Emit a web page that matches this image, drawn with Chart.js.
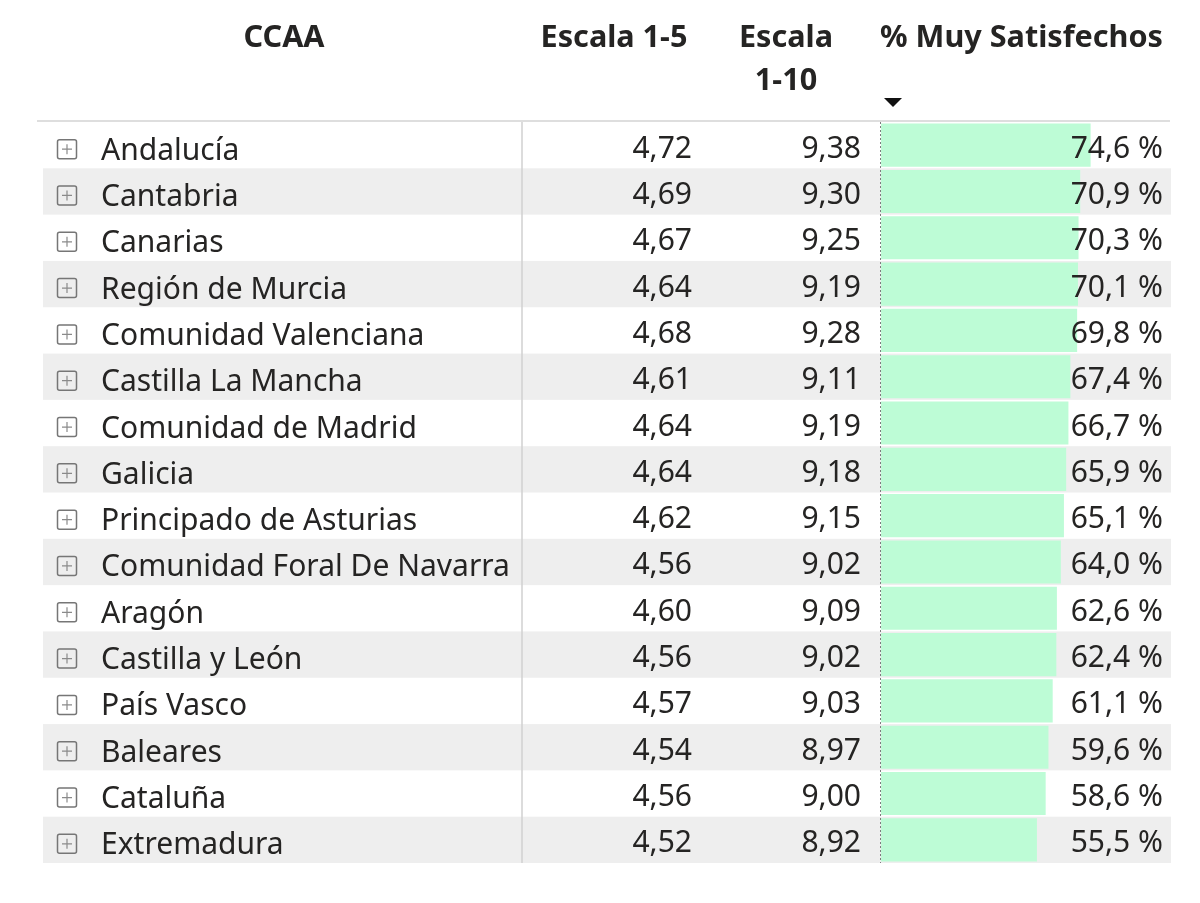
<!DOCTYPE html>
<html>
<head>
<meta charset="utf-8">
<script src="https://cdn.jsdelivr.net/npm/chart.js@4.4.0/dist/chart.umd.min.js"></script>
<style>
  html, body { margin: 0; padding: 0; background: #fff; }
  canvas { display: block; }
</style>
</head>
<body>
<canvas id="tabla" width="1200" height="903"></canvas>
<script>
// datos de la tabla
const ccaa = [
    'Andalucía',
    'Cantabria',
    'Canarias',
    'Región de Murcia',
    'Comunidad Valenciana',
    'Castilla La Mancha',
    'Comunidad de Madrid',
    'Galicia',
    'Principado de Asturias',
    'Comunidad Foral De Navarra',
    'Aragón',
    'Castilla y León',
    'País Vasco',
    'Baleares',
    'Cataluña',
    'Extremadura',
];
const escala5  = [4.72, 4.69, 4.67, 4.64, 4.68, 4.61, 4.64, 4.64, 4.62, 4.56, 4.60, 4.56, 4.57, 4.54, 4.56, 4.52];
const escala10 = [9.38, 9.30, 9.25, 9.19, 9.28, 9.11, 9.19, 9.18, 9.15, 9.02, 9.09, 9.02, 9.03, 8.97, 9.00, 8.92];
const muySatisfechos = [74.6, 70.9, 70.3, 70.1, 69.8, 67.4, 66.7, 65.9, 65.1, 64.0, 62.6, 62.4, 61.1, 59.6, 58.6, 55.5];
const cabeceras = ['CCAA', 'Escala 1-5', ['Escala', '1-10'], '% Muy Satisfechos'];

const FONT = '"Segoe UI", "Noto Sans", sans-serif';
const TEXT_COLOR = '#252423';

const fmt = (v, d) => v.toFixed(d).replace('.', ',');

// ajusta el tamaño de letra a un ancho medido
function fitSize(ctx, text, weight, target) {
    ctx.font = `${weight} 30px ${FONT}`;
    return 30 * target / ctx.measureText(text).width;
}

const tablaPlugin = {
    id: 'tabla',
    beforeDatasetsDraw(chart) {
        const {ctx, scales: {y}} = chart;
        const rowH = Math.abs(y.getPixelForValue(1) - y.getPixelForValue(0));
        const top = y.getPixelForValue(0) - rowH / 2;
        const bottom = y.getPixelForValue(ccaa.length - 1) + rowH / 2;
        ctx.save();
        //filas alternas
        ccaa.forEach((_, i) => {
            if (i % 2 === 1) {
                const cy = y.getPixelForValue(i);
                ctx.fillStyle = '#eeeeee';
                ctx.fillRect(43, cy - rowH / 2, 1128, rowH);
            }
        });
        //linea cabecera
        ctx.strokeStyle = '#dedede';
        ctx.lineWidth = 2;
        ctx.beginPath();
        ctx.moveTo(37, top - 1);
        ctx.lineTo(1170, top - 1);
        ctx.stroke();
        //separador columna
        ctx.strokeStyle = '#d0d0d0';
        ctx.lineWidth = 1.5;
        ctx.beginPath();
        ctx.moveTo(522, top);
        ctx.lineTo(522, bottom);
        ctx.stroke();
        ctx.restore();
    },
    afterDatasetsDraw(chart) {
        const {ctx, scales: {x, y}} = chart;
        const rowH = Math.abs(y.getPixelForValue(1) - y.getPixelForValue(0));
        const top = y.getPixelForValue(0) - rowH / 2;
        const bottom = y.getPixelForValue(ccaa.length - 1) + rowH / 2;
        ctx.save();

        //eje de las barras (punteado)
        ctx.strokeStyle = '#7d7d7d';
        ctx.lineWidth = 1;
        ctx.setLineDash([2, 2]);
        ctx.beginPath();
        ctx.moveTo(x.getPixelForValue(0) - 0.5, top);
        ctx.lineTo(x.getPixelForValue(0) - 0.5, bottom);
        ctx.stroke();
        ctx.setLineDash([]);

        const bodySize = fitSize(ctx, 'Comunidad Foral De Navarra', 400, 409);
        const headSize = fitSize(ctx, '% Muy Satisfechos', 700, 283);

        ccaa.forEach((name, i) => {
            const cy = y.getPixelForValue(i);
            // icono +
            ctx.strokeStyle = '#767676';
            ctx.lineWidth = 1.5;
            ctx.beginPath();
            ctx.roundRect(57.5, cy - 5.5, 19, 19, 2);
            ctx.stroke();
            ctx.strokeStyle = '#8a8a8a';
            ctx.lineWidth = 1.2;
            ctx.beginPath();
            ctx.moveTo(62, cy + 4);
            ctx.lineTo(72, cy + 4);
            ctx.moveTo(67, cy - 1);
            ctx.lineTo(67, cy + 9);
            ctx.stroke();

            ctx.fillStyle = TEXT_COLOR;
            ctx.font = `400 ${bodySize}px ${FONT}`;
            ctx.textBaseline = 'alphabetic';
            ctx.textAlign = 'left';
            ctx.fillText(name, 101, cy + 14.5);
            ctx.textAlign = 'right';
            ctx.fillText(fmt(escala5[i], 2), 692, cy + 12.5);
            ctx.fillText(fmt(escala10[i], 2), 861, cy + 12.5);
            ctx.fillText(fmt(muySatisfechos[i], 1) + ' %', 1163, cy + 12.5);
        });

        //cabeceras
        ctx.fillStyle = TEXT_COLOR;
        ctx.font = `700 ${headSize}px ${FONT}`;
        ctx.textAlign = 'center';
        ctx.textBaseline = 'alphabetic';
        ctx.fillText(cabeceras[0], 284, 47);
        ctx.fillText(cabeceras[1], 614, 47);
        ctx.fillText(cabeceras[2][0], 786, 47);
        ctx.fillText(cabeceras[2][1], 786, 90);
        ctx.textAlign = 'left';
        ctx.fillText(cabeceras[3], 880, 47);

        //indicador de orden
        ctx.fillStyle = '#111';
        ctx.beginPath();
        ctx.moveTo(884, 98);
        ctx.lineTo(902, 98);
        ctx.lineTo(893, 107);
        ctx.closePath();
        ctx.fill();

        ctx.restore();
    }
};

const data = {
    labels: ccaa,
    datasets: [{
        data: muySatisfechos,
        backgroundColor: 'rgb(189, 252, 214)',
        borderWidth: 0,
        barPercentage: 0.93,
        categoryPercentage: 1,
    }]
};

const config = {
    type: 'bar',
    data,
    options: {
        indexAxis: 'y',
        responsive: false,
        animation: false,
        devicePixelRatio: 1,
        layout: {
            padding: {left: 881, right: 38, top: 122, bottom: 40}
        },
        scales: {
            x: {display: false, min: 0, max: 100},
            y: {display: false}
        },
        plugins: {
            legend: {display: false},
            tooltip: {enabled: false}
        }
    },
    plugins: [tablaPlugin]
};

new Chart(document.getElementById('tabla'), config);
</script>
</body>
</html>
